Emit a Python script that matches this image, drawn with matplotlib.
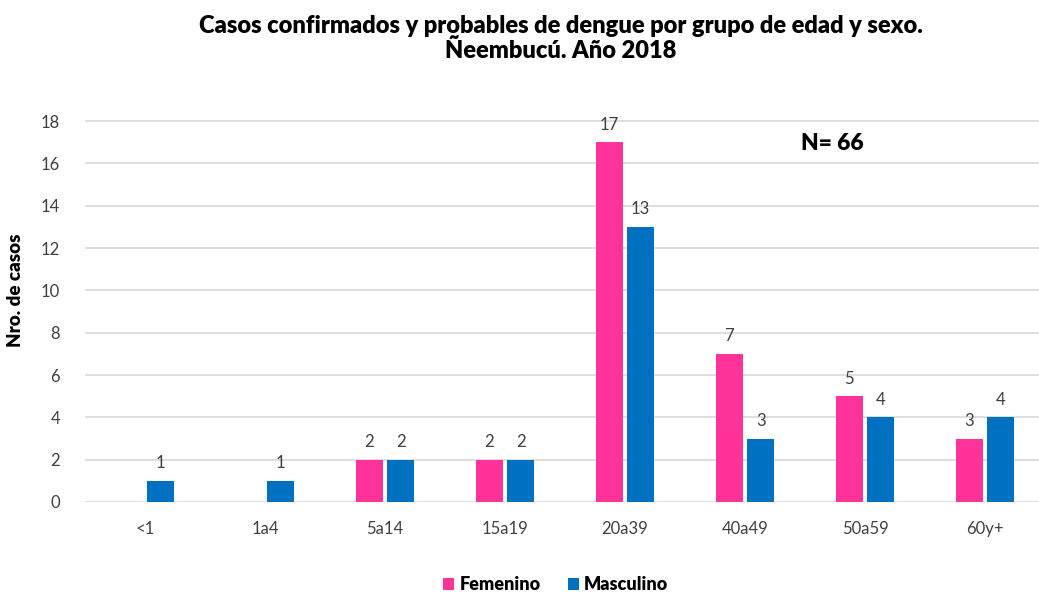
import matplotlib.pyplot as plt
import numpy as np

# Data
grupos = ["<1", "1a4", "5a14", "15a19", "20a39", "40a49", "50a59", "60y+"]
femenino = [0, 0, 2, 2, 17, 7, 5, 3]
masculino = [1, 1, 2, 2, 13, 3, 4, 4]

plt.rcParams['font.family'] = ['Lato', 'DejaVu Sans']

fig = plt.figure(figsize=(10.39, 5.94), dpi=100)
ax = fig.add_axes([85 / 1039, 1 - 502 / 594, (1045 - 85) / 1039, (502 - 121) / 594 * 20 / 18])

x = np.arange(len(grupos))
w = 0.225
off = 0.13
b1 = ax.bar(x - off, femenino, w, color="#FF3399", label="Femenino", zorder=3)
b2 = ax.bar(x + off, masculino, w, color="#0070C0", label="Masculino", zorder=3)

for bars, vals in ((b1, femenino), (b2, masculino)):
    for rect, v in zip(bars, vals):
        if v > 0:
            ax.text(rect.get_x() + rect.get_width() / 2, v + 0.45, str(v),
                    ha="center", va="bottom", fontsize=12, color="#404040")

ax.set_xlim(-0.5, len(grupos) - 0.5)
ax.set_ylim(0, 20)
ax.set_yticks(range(0, 19, 2))
ax.set_xticks(x)
ax.set_xticklabels(grupos)
ax.tick_params(axis="both", length=0, labelsize=12, labelcolor="#404040")
ax.tick_params(axis="x", pad=14)
ax.tick_params(axis="y", pad=18)
ax.grid(axis="y", color="#D9D9D9", linewidth=1.2, zorder=0)
for s in ax.spines.values():
    s.set_visible(False)

ax.set_ylabel("Nro. de casos", fontsize=13.5, fontweight="heavy", labelpad=12)

fig.text(0.54, 0.975, "Casos confirmados y probables de dengue por grupo de edad y sexo.\nÑeembucú. Año 2018",
         ha="center", va="top", fontsize=17, fontweight="heavy", linespacing=1.1)
ax.text(832 / 1039, 1 - 143 / 594, "N= 66", transform=fig.transFigure,
        ha="center", va="center", fontsize=16.5, fontweight="heavy")

fig.legend(loc="center", bbox_to_anchor=(0.535, 1 - 585 / 594), ncol=2, frameon=False,
           handlelength=0.6, handleheight=0.6, handletextpad=0.3,
           columnspacing=1.5, prop={"weight": "heavy", "size": 13})

fig.savefig("out.png", dpi=100)
